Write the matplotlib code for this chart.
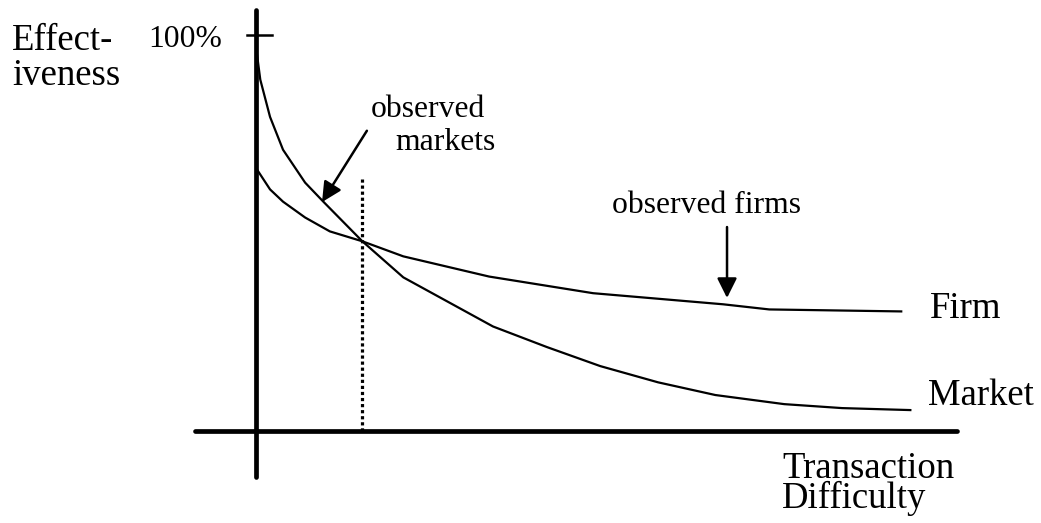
import matplotlib
matplotlib.use("Agg")
import matplotlib.pyplot as plt

# transaction difficulty (arbitrary units) and effectiveness (%)
market_x = [0, 0.5, 2.0, 4.0, 7.4, 10.2, 16.2, 22.5, 36.3, 44.6, 52.8, 61.7, 70.5, 81.1, 90.0, 100.5]
market_y = [95.0, 88.7, 79.3, 71.0, 62.7, 57.9, 47.9, 38.8, 26.4, 21.2, 16.4, 12.3, 9.1, 6.8, 5.8, 5.3]

firm_x = [0, 2.0, 4.0, 7.4, 11.2, 16.2, 22.5, 35.7, 51.7, 71.7, 78.8, 99.1]
firm_y = [66.0, 61.0, 57.9, 53.9, 50.4, 47.9, 44.1, 39.0, 34.8, 32.0, 30.7, 30.2]

crossing_x = 16.2
crossing_top = 63.6

plt.rcParams['font.family'] = ['Liberation Serif', 'DejaVu Serif']

fig = plt.figure(figsize=(10.41, 5.23), dpi=100)
ax = fig.add_axes([0, 0, 1, 1])
ax.set_xlim(-39.54, 120.6)
ax.set_ylim(-23.2, 108.8)
ax.axis('off')

# axes drawn by hand, like the original sketch
ax.plot([-0.15, -0.15], [-11.6, 106.3], color='black', lw=3.4, solid_capstyle='round')
ax.plot([-9.5, 107.7], [0, 0], color='black', lw=3.4, solid_capstyle='round')
ax.plot([-1.5, 2.3], [100, 100], color='black', lw=1.8)

ax.plot(market_x, market_y, color='black', lw=1.6)
ax.plot(firm_x, firm_y, color='black', lw=1.6)

# dotted line at the crossing point
ax.plot([crossing_x, crossing_x], [0, crossing_top], color='black', lw=2.3, linestyle=(0, (1, 0.9)))

arrow = dict(arrowstyle='-|>', color='black', lw=1.8, mutation_scale=30, shrinkA=0, shrinkB=0)
ax.annotate('', xy=(10.0, 57.8), xytext=(16.9, 75.8), arrowprops=arrow)
ax.annotate('', xy=(72.3, 33.6), xytext=(72.3, 51.5), arrowprops=arrow)

big = 26.5
small = 22.8
ax.text(-37.7, 87.4, 'Effect-\niveness', fontsize=big, va='baseline', linespacing=1.0)
ax.text(-16.8, 97.0, '100%', fontsize=small, va='baseline')
ax.text(17.5, 79.3, 'observed', fontsize=small, va='baseline')
ax.text(21.2, 71.0, 'markets', fontsize=small, va='baseline')
ax.text(54.6, 55.1, 'observed firms', fontsize=small, va='baseline')
ax.text(103.5, 28.5, 'Firm', fontsize=big, va='baseline')
ax.text(103.2, 6.6, 'Market', fontsize=big, va='baseline')
ax.text(80.8, -19.4, 'Transaction\nDifficulty', fontsize=big, va='baseline', linespacing=0.82)

fig.savefig('out.png', dpi=100)
